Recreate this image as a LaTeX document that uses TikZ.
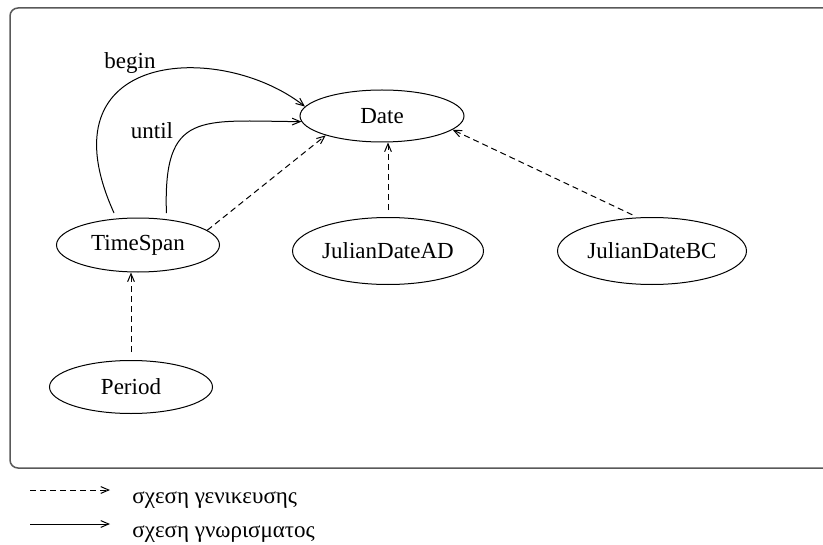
\documentclass[tikz,border=0pt]{standalone}
\usepackage{fontspec}
\setmainfont{Liberation Serif}
\usepackage{tikz}
\usetikzlibrary{arrows.meta,shapes.geometric}
\tikzset{>={Straight Barb[length=4pt,width=3.4pt]}}

\begin{document}
\begin{tikzpicture}[x=0.5pt, y=-0.5pt,
    font=\fontsize{11.5}{14}\selectfont,
    cls/.style={draw, ellipse, inner sep=0pt, line width=0.5pt},
    isa/.style={->, line width=0.5pt, dash pattern=on 3pt off 2pt},
    has/.style={->, line width=0.5pt}]
  \useasboundingbox (0, 0) rectangle (823, 545);
  \draw[rounded corners=4pt, line width=0.75pt, black!65] (10, 8) rectangle (850, 468);

  \node[cls, minimum width=82pt, minimum height=26pt] (date) at (382, 116) {Date};
  \node[cls, minimum width=81.5pt, minimum height=27pt] (ts) at (138, 245) {TimeSpan};
  \node[cls, minimum width=95.5pt, minimum height=33.5pt] (jad) at (388, 251) {JulianDateAD};
  \node[cls, minimum width=94.5pt, minimum height=33.5pt] (jbc) at (652, 251) {JulianDateBC};
  \node[cls, minimum width=81.5pt, minimum height=26.5pt] (per) at (131, 387) {Period};

  \draw[has, shorten <=3pt] (ts.129) .. controls (40, 50) and (220, 40) .. (date.173);
  \draw[has, shorten <=3pt] (ts.42) .. controls (163, 110) and (200, 121) .. (date.184);
  \node (begin) at (130, 63) {begin};
  \node (until) at (152, 131) {until};

  \draw[isa] (ts.12) -- (date.199);
  \draw[isa, shorten <=3.5pt] (jad.north) -- (jad.north |- date.south);
  \draw[isa, shorten <=3pt] (jbc.113) -- (date.-11);
  \draw[isa, shorten <=4pt] (per.north) -- (per.north |- ts.south);

  \coordinate (isa0) at (30, 490);
  \coordinate (isa1) at (110, 490);
  \coordinate (has0) at (30, 524);
  \coordinate (has1) at (110, 524);
  \draw[isa] (isa0) -- (isa1);
  \draw[has] (has0) -- (has1);
  \node[anchor=base west, inner sep=0pt] (isatext) at (132, 503) {σχεση γενικευσης};
  \node[anchor=base west, inner sep=0pt] (hastext) at (132, 537) {σχεση γνωρισματος};
\end{tikzpicture}
\end{document}
